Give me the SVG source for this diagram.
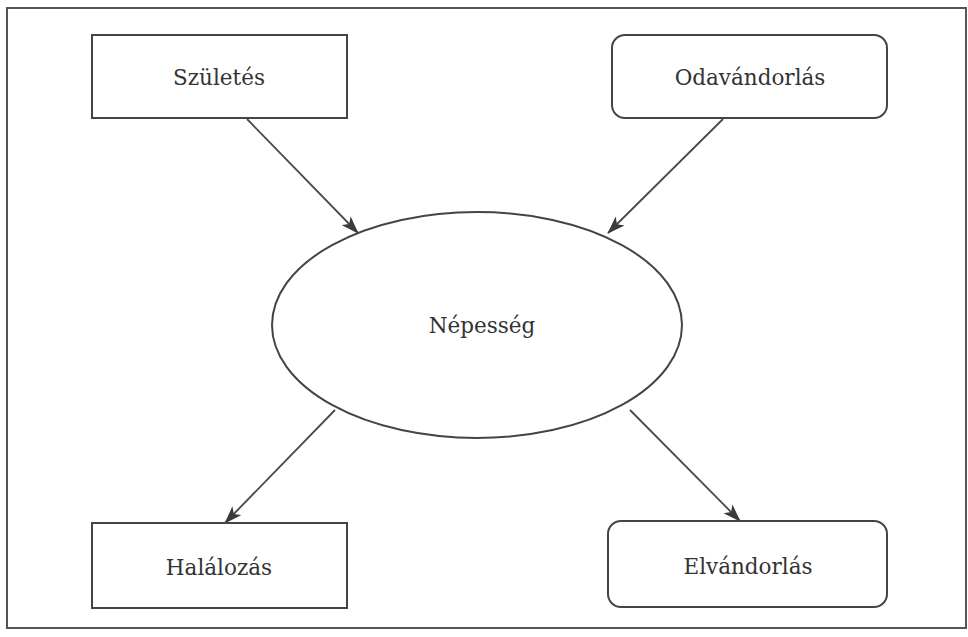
<svg xmlns="http://www.w3.org/2000/svg" width="968" height="637" viewBox="0 0 968 637">
<defs>
<style>
.box{fill:#fff;stroke:#444;stroke-width:2}
.lbl{font-family:"DejaVu Serif","Liberation Serif",serif;font-size:21.5px;fill:#333;text-anchor:middle}
.con{stroke:#4a4a4a;stroke-width:1.8;fill:none;marker-end:url(#ah)}
</style>
<marker id="ah" viewBox="0 0 20 14" refX="19" refY="7" markerWidth="18" markerHeight="13" markerUnits="userSpaceOnUse" orient="auto">
<path d="M0,0 L20,7 L0,14 L5,7 Z" fill="#3a3a3a"/>
</marker>
</defs>
<rect x="0" y="0" width="968" height="637" fill="#fff"/>
<rect x="7" y="8" width="959" height="620" fill="none" stroke="#555" stroke-width="2"/>
<g id="connectors">
<line class="con" x1="247" y1="119" x2="358" y2="233"/>
<line class="con" x1="723" y1="119" x2="608" y2="233"/>
<line class="con" x1="335" y1="410" x2="225" y2="523"/>
<line class="con" x1="630" y1="410" x2="740" y2="521"/>
</g>
<g id="szuletes">
<rect class="box" x="92" y="35" width="255" height="83"/>
<text class="lbl" x="219" y="85">Születés</text>
</g>
<g id="odavandorlas">
<rect class="box" x="612" y="35" width="275" height="83" rx="13"/>
<text class="lbl" x="750" y="85">Odavándorlás</text>
</g>
<g id="nepesseg">
<ellipse class="box" cx="477" cy="325" rx="205" ry="113"/>
<text class="lbl" x="482" y="333">Népesség</text>
</g>
<g id="halalozas">
<rect class="box" x="92" y="523" width="255" height="85"/>
<text class="lbl" x="219" y="575">Halálozás</text>
</g>
<g id="elvandorlas">
<rect class="box" x="608" y="521" width="279" height="86" rx="13"/>
<text class="lbl" x="748" y="574">Elvándorlás</text>
</g>
</svg>
